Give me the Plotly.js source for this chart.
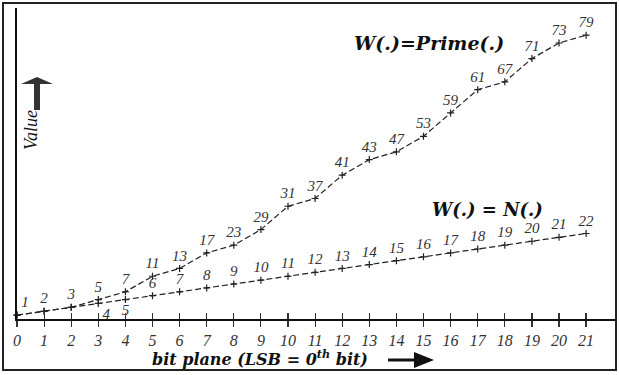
<!DOCTYPE html>
<html>
<head>
<meta charset="utf-8">
<script src="https://cdn.plot.ly/plotly-3.0.1.min.js"></script>
<style>html,body{margin:0;padding:0;background:#fff;}#chart{width:619px;height:375px;}</style>
</head>
<body>
<div id="chart"></div>
<script>
// ---- data ----
const bitPlanes = [0,1,2,3,4,5,6,7,8,9,10,11,12,13,14,15,16,17,18,19,20,21];
const tickLabels = ["0","1","2","3","4","5","6","7","8","9","10","11","12","13","14","15","16","17","18","19","20","21"];
// W() = Prime(): plotted heights
const primeValues = [1,2,3,5,7,11,13,17,19,23,29,31,37,41,43,47,53,59,61,67,71,73];
// labels written next to the Prime() points (as printed in the figure)
const primeLabels = ["1","2","3","5","7","11","13","17","23","29","31","37","41","43","47","53","59","61","67","71","73","79"];
// W() = N()
const nValues = [1,2,3,4,5,6,7,8,9,10,11,12,13,14,15,16,17,18,19,20,21,22];
const nLabels = ["","","","4","5","6","7","8","9","10","11","12","13","14","15","16","17","18","19","20","21","22"];

// ---- layout helpers (pixel -> paper) ----
const L = 17, R = 615, T = 8, B = 319;
const px = p => (p - L) / (R - L);
const py = p => (B - p) / (B - T);

const labelFont = {family: "Liberation Serif", size: 15, color: "#333", style: "italic"};
const lineStyle = {color: "#222", width: 1.2, dash: "6px,3px"};
const markerStyle = {symbol: "cross-thin-open", size: 5, line: {color: "#111", width: 1.2}};

const primePos = primeLabels.map((_, i) => i === 0 ? "top right" : "top center");
const nPos = nLabels.map((_, i) => i === 3 ? "bottom right" : (i === 4 ? "bottom center" : "top center"));

const traces = [
  {x: bitPlanes, y: nValues, mode: "lines+markers+text", text: nLabels, textposition: nPos,
   textfont: labelFont, line: lineStyle, marker: markerStyle, hoverinfo: "skip", cliponaxis: false},
  {x: bitPlanes, y: primeValues, mode: "lines+markers+text", text: primeLabels, textposition: primePos,
   textfont: labelFont, line: lineStyle, marker: markerStyle, hoverinfo: "skip", cliponaxis: false},
  {x: bitPlanes, y: nValues, xaxis: "x2", mode: "markers", marker: {opacity: 0}, hoverinfo: "skip"}
];

const layout = {
  width: 619, height: 375,
  margin: {l: L, r: 619 - R, t: T, b: 375 - B, pad: 0},
  paper_bgcolor: "#fff", plot_bgcolor: "#fff",
  showlegend: false,
  xaxis: {range: [0, (R - L) / 27.1], tickvals: bitPlanes, ticktext: tickLabels,
    showline: true, linecolor: "#111", linewidth: 1.5, ticks: "outside", ticklen: 6, tickwidth: 1.2, tickcolor: "#333",
    showgrid: false, zeroline: false, tickfont: {family: "Liberation Serif", size: 16, color: "#333", style: "italic"},
    fixedrange: true, automargin: false},
  xaxis2: {range: [0, (R - L) / 27.1], tickvals: bitPlanes, overlaying: "x", anchor: "y", side: "bottom",
    showticklabels: false, ticks: "inside", ticklen: 6, tickwidth: 1.2, tickcolor: "#333",
    showline: false, showgrid: false, zeroline: false, fixedrange: true, automargin: false},
  yaxis: {range: [0, 80], showline: true, linecolor: "#111", linewidth: 2, showticklabels: false, ticks: "",
    showgrid: false, zeroline: false, fixedrange: true, automargin: false},
  shapes: [
    {type: "rect", xref: "paper", yref: "paper", x0: px(3), x1: px(616), y0: py(370), y1: py(3),
     line: {color: "#222", width: 2}, layer: "above"},
    {type: "path", xref: "paper", yref: "paper",
     path: `M ${px(34)} ${py(110)} L ${px(40)} ${py(110)} L ${px(40)} ${py(84)} L ${px(53)} ${py(84)} L ${px(37)} ${py(77)} L ${px(21)} ${py(84)} L ${px(34)} ${py(84)} Z`,
     fillcolor: "#333", line: {width: 0}},
    {type: "path", xref: "paper", yref: "paper",
     path: `M ${px(388)} ${py(358.5)} L ${px(414)} ${py(358.5)} L ${px(414)} ${py(352)} L ${px(434)} ${py(360)} L ${px(414)} ${py(368)} L ${px(414)} ${py(361.5)} L ${px(388)} ${py(361.5)} Z`,
     fillcolor: "#111", line: {width: 0}}
  ],
  annotations: [
    {xref: "paper", yref: "paper", x: px(429), y: py(43), text: "<b><i>W(.)=Prime(.)</i></b>", showarrow: false,
     font: {family: "DejaVu Serif", size: 19, color: "#111"}, xanchor: "center", yanchor: "middle"},
    {xref: "paper", yref: "paper", x: px(487), y: py(210), text: "<b><i>W(.) = N(.)</i></b>", showarrow: false,
     font: {family: "DejaVu Serif", size: 18, color: "#111"}, xanchor: "center", yanchor: "middle"},
    {xref: "paper", yref: "paper", x: px(260), y: py(358), text: "<b><i>bit plane (LSB = 0<sup>th</sup> bit)</i></b>", showarrow: false,
     font: {family: "DejaVu Serif", size: 16, color: "#111"}, xanchor: "center", yanchor: "middle"},
    {xref: "paper", yref: "paper", x: px(31), y: py(130), text: "<i>Value</i>", textangle: -90, showarrow: false,
     font: {family: "Liberation Serif", size: 18, color: "#111"}, xanchor: "center", yanchor: "middle"}
  ]
};

Plotly.newPlot("chart", traces, layout, {staticPlot: true, displayModeBar: false});
</script>
</body>
</html>
